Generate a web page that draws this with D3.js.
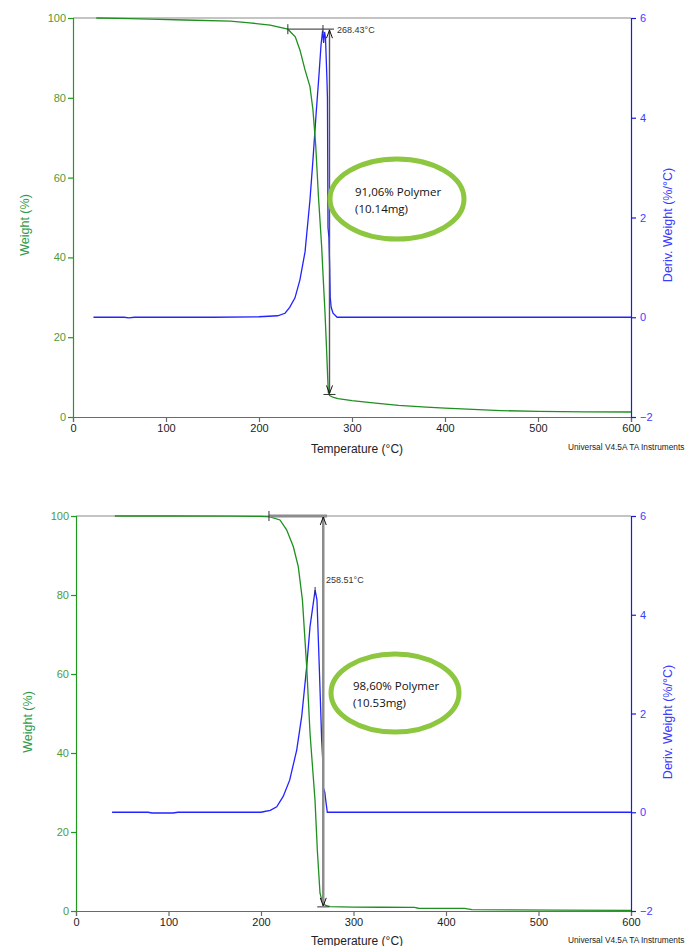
<!DOCTYPE html>
<html>
<head>
<meta charset="utf-8">
<script src="https://cdn.jsdelivr.net/npm/d3@7"></script>
<style>
body { margin: 0; background: #fff; }
text { font-family: "Liberation Sans", Arial, sans-serif; }
</style>
</head>
<body>
<div id="chart"></div>
<script>
var width = 696,
    height = 946;

// ---- run 1 (top) ----
var tempA   = [25, 50, 83, 120, 169, 190, 212, 231, 239, 244, 249.5, 254.8, 258, 261, 264, 267.4, 269, 271, 273, 274.5, 276, 280, 285, 300, 320, 350, 380, 400, 430, 460, 500, 550, 600];
var weightA = [100, 99.9, 99.7, 99.5, 99.2, 98.8, 98.2, 97.2, 95.3, 92, 87, 82.8, 77, 68, 55, 42.6, 35, 26, 15, 6.2, 5.4, 4.9, 4.6, 4.1, 3.6, 2.9, 2.5, 2.2, 1.9, 1.6, 1.4, 1.3, 1.25];
var dTempA  = [22, 55, 60, 66, 150, 200, 220, 228, 233, 238.7, 244, 249.5, 254.8, 258, 261.3, 264.5, 266.7, 268.4, 269.5, 270.5, 271.5, 273, 273.6, 274.2, 275.2, 276, 276.6, 277.6, 279.6, 284, 400, 600];
var derivA  = [0, 0, -0.012, 0, 0, 0.01, 0.03, 0.08, 0.2, 0.39, 0.75, 1.31, 2.35, 3.15, 4.05, 4.86, 5.46, 5.75, 5.5, 5.72, 5.6, 4.8, 4.4, 1.8, 1.6, 1.0, 0.4, 0.2, 0.08, 0, 0, 0];
var markA   = [231, 275.8, 97.2, 5.9, 268.8];   // start T, arrow T, top %, bottom %, peak T

// ---- run 2 (bottom) ----
var tempB   = [42, 100, 166, 200, 209.7, 220.5, 227.7, 235, 240.3, 244.8, 249.4, 253, 258.4, 260.9, 263.8, 266.7, 270, 274.6, 300, 330, 366, 370, 420, 428, 470, 520, 600];
var weightB = [100, 100, 99.95, 99.9, 99.8, 99, 96.5, 92.2, 87.2, 78.7, 61.8, 45, 28, 15.4, 4.5, 2, 1.4, 1.1, 1.0, 0.95, 0.9, 0.7, 0.65, 0.35, 0.3, 0.2, 0.15];
var dTempB  = [39, 78, 82, 105, 110, 200, 202.5, 210, 217, 224, 231, 238.6, 244, 249.4, 253, 256.5, 258.5, 260.5, 263, 265.6, 266.9, 267.4, 269, 270, 271.7, 600];
var derivB  = [0, 0, -0.015, -0.015, 0, 0, 0.01, 0.04, 0.11, 0.32, 0.65, 1.26, 1.94, 2.95, 3.76, 4.23, 4.5, 4.3, 2.95, 1.46, 1.0, 0.5, 0.4, 0.24, 0, 0];
var markB   = [208.6, 267.3, 100, 1.3, 258.5];

var xTicks = [0, 100, 200, 300, 400, 500, 600];
var wTicks = [0, 20, 40, 60, 80, 100];
var dTicks = [-2, 0, 2, 4, 6];
var peakLabels = ["268.43°C", "258.51°C"];
var polymerLabels = [["91,06% Polymer", "(10.14mg)"], ["98,60% Polymer", "(10.53mg)"]];
var footer = "Universal V4.5A TA Instruments";

var svg = d3.select("#chart").append("svg")
    .attr("width", width)
    .attr("height", height);

function drawPanel(p) {
    var x = d3.scaleLinear().domain([0, 600]).range([p.l, p.r]);
    var yW = d3.scaleLinear().domain([0, 100]).range([p.b, p.t]);
    var yD = d3.scaleLinear().domain([-2, 6]).range([p.b, p.t]);
    var g = svg.append("g");

    // frame top
    g.append("line").attr("x1", p.l).attr("x2", p.r).attr("y1", p.t).attr("y2", p.t)
        .attr("stroke", "#8a8a8a").attr("stroke-width", 1.2);

    // x axis, minor + major
    var xg = g.append("g").attr("transform", "translate(0," + p.b + ")");
    xg.call(d3.axisBottom(x).tickValues(d3.range(0, 601, 25)).tickSize(3).tickFormat(""));
    xg.call(d3.axisBottom(x).tickValues(xTicks).tickSize(5).tickPadding(2).tickFormat(d3.format("d")));
    xg.selectAll("path, line").attr("stroke", "#6a6a6a").attr("stroke-width", 1.2);
    xg.selectAll("text").attr("fill", "#222").style("font-size", "11px");

    // left axis (weight)
    var lg = g.append("g").attr("transform", "translate(" + p.l + ",0)");
    lg.call(d3.axisLeft(yW).tickValues(d3.range(0, 101, 5)).tickSize(3).tickFormat(""));
    lg.call(d3.axisLeft(yW).tickValues(wTicks).tickSize(5).tickPadding(2));
    lg.selectAll("path, line").attr("stroke", "#1f9a1f").attr("stroke-width", 1.2);
    lg.selectAll("text").attr("fill", "#4f9a3a").style("font-size", "11px");

    // right axis (deriv)
    var rg = g.append("g").attr("transform", "translate(" + p.r + ",0)");
    rg.call(d3.axisRight(yD).tickValues(d3.range(-2, 6.01, 0.5)).tickSize(3).tickFormat(""));
    rg.call(d3.axisRight(yD).tickValues(dTicks).tickSize(5).tickPadding(4));
    rg.selectAll("path, line").attr("stroke", "#1a1ae6").attr("stroke-width", 1.2);
    rg.selectAll("text").attr("fill", "#3d3dff").style("font-size", "11px");

    // axis titles
    g.append("text")
        .attr("transform", "translate(" + p.wLabelX + "," + p.labelY + ") rotate(-90)")
        .attr("text-anchor", "middle").attr("fill", "#2f9a4a").style("font-size", "12.5px")
        .text("Weight (%)");
    g.append("text")
        .attr("transform", "translate(" + p.dLabelX + "," + p.labelY + ") rotate(-90)")
        .attr("text-anchor", "middle").attr("fill", "#3c3cff").style("font-size", "12.5px")
        .text("Deriv. Weight (%/°C)");
    g.append("text")
        .attr("x", 357).attr("y", p.titleY)
        .attr("text-anchor", "middle").attr("fill", "#222").style("font-size", "12px")
        .text("Temperature (°C)");
    g.append("text")
        .attr("x", 568).attr("y", p.footY)
        .attr("fill", "#222").style("font-size", "8.3px")
        .text(footer);

    // curves
    var derivLine = d3.line().x(function(d) { return x(d[0]); }).y(function(d) { return yD(d[1]); });
    var weightLine = d3.line().x(function(d) { return x(d[0]); }).y(function(d) { return yW(d[1]); });

    g.append("path").datum(d3.zip(p.dTemp, p.deriv))
        .attr("d", derivLine).attr("fill", "none")
        .attr("stroke", "#2323ff").attr("stroke-width", 1.3);
    g.append("path").datum(d3.zip(p.temp, p.weight))
        .attr("d", weightLine).attr("fill", "none")
        .attr("stroke", "#1f8f1f").attr("stroke-width", 1.3);

    // step annotation
    var m = p.mark;
    var ax = x(m[1]), yTop = yW(m[2]), yBot = yW(m[3]);
    g.append("line").attr("x1", x(m[0])).attr("x2", p.hEnd).attr("y1", yTop).attr("y2", yTop)
        .attr("stroke", p.annColor).attr("stroke-width", p.hWidth);
    g.append("line").attr("x1", x(m[0])).attr("x2", x(m[0])).attr("y1", yTop - 5).attr("y2", yTop + 5)
        .attr("stroke", "#333").attr("stroke-width", 1);
    g.append("line").attr("x1", x(m[4])).attr("x2", x(m[4])).attr("y1", p.peakTickY - 4).attr("y2", p.peakTickY + 4)
        .attr("stroke", "#333").attr("stroke-width", 1);
    g.append("line").attr("x1", ax).attr("x2", ax).attr("y1", yTop).attr("y2", yBot)
        .attr("stroke", p.annColor).attr("stroke-width", p.vWidth);
    g.append("line").attr("x1", ax - 6).attr("x2", ax + 6).attr("y1", yBot + 1).attr("y2", yBot + 1)
        .attr("stroke", "#333").attr("stroke-width", 1);
    // arrow heads
    g.append("path")
        .attr("d", "M" + (ax - 3) + "," + (yTop + 9) + "L" + ax + "," + (yTop + 1) + "L" + (ax + 3) + "," + (yTop + 9))
        .attr("fill", "none").attr("stroke", "#111").attr("stroke-width", 1);
    g.append("path")
        .attr("d", "M" + (ax - 3) + "," + (yBot - 8) + "L" + ax + "," + yBot + "L" + (ax + 3) + "," + (yBot - 8))
        .attr("fill", "none").attr("stroke", "#111").attr("stroke-width", 1);
    g.append("text")
        .attr("x", p.peakLabelX).attr("y", p.peakLabelY)
        .attr("fill", "#333").style("font-size", "9px")
        .text(p.peakLabel);

    // highlighted ellipse
    g.append("ellipse")
        .attr("cx", p.ex).attr("cy", p.ey).attr("rx", p.erx).attr("ry", p.ery)
        .attr("fill", "none").attr("stroke", "#8dc63f").attr("stroke-width", 5);
    g.selectAll(".poly").data(p.polymer).enter().append("text")
        .attr("x", p.ex - 42)
        .attr("y", function(d, i) { return p.ey - 3 + i * 16.5; })
        .attr("fill", "#111")
        .style("font-family", "'Open Sans', sans-serif")
        .style("font-size", "11.5px")
        .text(function(d) { return d; });
}

drawPanel({
    l: 73, r: 631, t: 18, b: 417,
    temp: tempA, weight: weightA, dTemp: dTempA, deriv: derivA, mark: markA,
    wLabelX: 29, dLabelX: 672, labelY: 225, titleY: 453, footY: 450,
    hEnd: 334, hWidth: 1.2, vWidth: 1.4, annColor: "#555", peakTickY: 29,
    peakLabel: peakLabels[0], peakLabelX: 337, peakLabelY: 33,
    ex: 397, ey: 199, erx: 67, ery: 40, polymer: polymerLabels[0]
});

drawPanel({
    l: 76, r: 631, t: 516, b: 911,
    temp: tempB, weight: weightB, dTemp: dTempB, deriv: derivB, mark: markB,
    wLabelX: 32, dLabelX: 672, labelY: 722, titleY: 945, footY: 943,
    hEnd: 327, hWidth: 3, vWidth: 2.5, annColor: "#8c8c8c", peakTickY: 591,
    peakLabel: peakLabels[1], peakLabelX: 326, peakLabelY: 583,
    ex: 395, ey: 693, erx: 64, ery: 39, polymer: polymerLabels[1]
});
</script>
</body>
</html>
